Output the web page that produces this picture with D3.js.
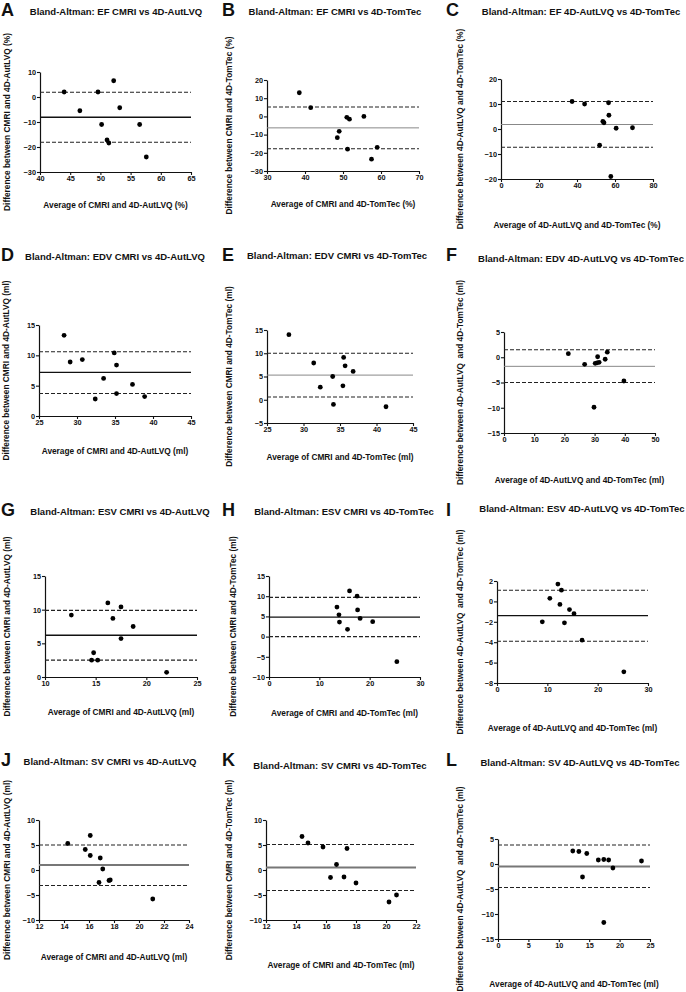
<!DOCTYPE html>
<html><head><meta charset="utf-8">
<script src="https://cdn.jsdelivr.net/npm/d3@7"></script>
<style>
html,body{margin:0;padding:0;background:#fff;}
svg{display:block;font-family:Arial,"Liberation Sans",Helvetica,sans-serif;}
</style></head><body>
<svg id="c" width="686" height="992"></svg>
<script>
// ---------------- DATA ----------------
const panelLetters = ["A","B","C","D","E","F","G","H","I","J","K","L"];
const titles = [
  "Bland-Altman: EF CMRI vs 4D-AutLVQ","Bland-Altman: EF CMRI vs 4D-TomTec","Bland-Altman: EF 4D-AutLVQ vs 4D-TomTec",
  "Bland-Altman: EDV CMRI vs 4D-AutLVQ","Bland-Altman: EDV CMRI vs 4D-TomTec","Bland-Altman: EDV 4D-AutLVQ vs 4D-TomTec",
  "Bland-Altman: ESV CMRI vs 4D-AutLVQ","Bland-Altman: ESV CMRI vs 4D-TomTec","Bland-Altman: ESV 4D-AutLVQ vs 4D-TomTec",
  "Bland-Altman: SV CMRI vs 4D-AutLVQ","Bland-Altman: SV CMRI vs 4D-TomTec","Bland-Altman: SV 4D-AutLVQ vs 4D-TomTec"];
const xLabels = [
  "Average of CMRI and 4D-AutLVQ (%)","Average of CMRI and 4D-TomTec (%)","Average of 4D-AutLVQ and 4D-TomTec (%)",
  "Average of CMRI and 4D-AutLVQ (ml)","Average of CMRI and 4D-TomTec (ml)","Average of 4D-AutLVQ and 4D-TomTec (ml)",
  "Average of CMRI and 4D-AutLVQ (ml)","Average of CMRI and 4D-TomTec (ml)","Average of 4D-AutLVQ and 4D-TomTec (ml)",
  "Average of CMRI and 4D-AutLVQ (ml)","Average of CMRI and 4D-TomTec (ml)","Average of 4D-AutLVQ and 4D-TomTec (ml)"];
const yLabels = [
  "Difference between CMRI and 4D-AutLVQ (%)","Difference between CMRI and 4D-TomTec (%)","Difference between 4D-AutLVQ and 4D-TomTec (%)",
  "Difference between CMRI and 4D-AutLVQ (ml)","Difference between CMRI and 4D-TomTec (ml)","Difference between 4D-AutLVQ  and 4D-TomTec (ml)",
  "Difference between CMRI and 4D-AutLVQ (ml)","Difference between CMRI and 4D-TomTec (ml)","Difference between 4D-AutLVQ  and 4D-TomTec (ml)",
  "Difference between CMRI and 4D-AutLVQ (ml)","Difference between CMRI and 4D-TomTec (ml)","Difference between 4D-AutLVQ  and 4D-TomTec (ml)"];
const xTicks = [
  [40,45,50,55,60,65],[30,40,50,60,70],[0,20,40,60,80],
  [25,30,35,40,45],[25,30,35,40,45],[0,10,20,30,40,50],
  [10,15,20,25],[0,10,20,30],[0,10,20,30],
  [12,14,16,18,20,22,24],[12,14,16,18,20,22],[0,5,10,15,20,25]];
const yTicks = [
  [10,0,-10,-20,-30],[20,10,0,-10,-20,-30],[20,10,0,-10,-20],
  [15,10,5,0],[15,10,5,0,-5],[5,0,-5,-10,-15],
  [15,10,5,0],[15,10,5,0,-5,-10],[2,0,-2,-4,-6,-8],
  [10,5,0,-5,-10],[10,5,0,-5,-10],[5,0,-5,-10,-15]];

// averages (x) and differences (y) per comparison
const efCmriAutAvg  = [44.0,46.6,49.6,52.2,53.2,50.2,51.1,51.4,56.5,57.6];
const efCmriAutDiff = [2.0,-5.5,2.0,6.5,-4.3,-11.0,-17.2,-18.4,-11.0,-24.0];
const efCmriTomAvg  = [38.5,41.5,51.0,51.7,55.5,49.0,48.5,51.2,59.0,57.5];
const efCmriTomDiff = [13.0,4.8,-0.5,-1.5,0.0,-8.2,-11.7,-18.0,-17.0,-23.5];
const efAutTomAvg   = [37.4,44.0,56.6,56.8,53.6,54.2,60.6,69.2,51.9,57.8];
const efAutTomDiff  = [11.0,10.0,10.5,5.5,3.0,2.5,0.3,0.5,-6.5,-19.0];
const edvCmriAutAvg  = [28.3,29.1,30.7,32.4,33.5,34.9,35.2,35.2,37.3,38.9];
const edvCmriAutDiff = [13.3,8.9,9.3,2.8,6.2,10.4,8.4,3.7,5.2,3.2];
const edvCmriTomAvg  = [28.0,31.4,32.3,34.0,34.1,35.4,35.5,35.7,36.8,41.3];
const edvCmriTomDiff = [14.0,7.9,2.7,5.0,-1.0,3.0,9.1,7.3,6.1,-1.5];
const edvAutTomAvg   = [21.3,26.7,30.2,30.8,31.5,31.0,33.5,34.2,29.8,39.7];
const edvAutTomDiff  = [0.7,-1.4,-1.2,-1.1,-1.0,0.1,-0.4,1.0,-9.9,-4.7];
const esvCmriAutAvg  = [12.6,14.6,14.8,15.2,16.2,16.7,17.5,17.5,18.7,22.0];
const esvCmriAutDiff = [9.2,2.5,3.6,2.5,11.0,8.7,10.4,5.7,7.5,0.7];
const esvCmriTomAvg  = [13.5,13.9,14.0,15.6,16.0,17.5,17.6,18.1,20.6,25.4];
const esvCmriTomDiff = [7.3,5.4,3.6,1.8,11.3,10.0,6.6,4.5,3.7,-6.2];
const esvAutTomAvg   = [9.0,10.5,12.1,12.5,12.8,13.4,14.4,15.3,16.9,25.2];
const esvAutTomDiff  = [-2.0,0.3,1.7,-0.3,1.1,-2.1,-0.8,-1.2,-3.8,-6.9];
const svCmriAutAvg  = [14.3,15.7,16.1,16.1,16.8,16.9,17.1,17.6,17.7,21.1];
const svCmriAutDiff = [5.3,4.1,6.9,2.9,-2.5,2.4,0.2,-2.1,-2.0,-5.8];
const svCmriTomAvg  = [14.4,14.8,15.8,16.3,16.7,17.2,17.4,18.0,20.2,20.7];
const svCmriTomDiff = [6.7,5.4,4.6,-1.5,1.1,-1.4,4.3,-2.6,-6.4,-5.0];
const svAutTomAvg   = [12.3,13.3,14.6,13.9,16.5,17.4,18.2,18.9,23.6,17.4];
const svAutTomDiff  = [2.6,2.5,2.1,-2.6,0.8,0.9,0.8,-0.8,0.6,-11.7];

// bias and limits of agreement
const biasValues  = [-8.1,-6.3,1.8, 7.2,5.3,-1.8, 6.2,4.8,-1.4, 1.0,0.5,-0.5];
const upperLimits = [1.9,5.2,11.0, 10.6,10.0,1.5, 9.9,9.7,1.1, 5.0,5.1,3.8];
const lowerLimits = [-18.1,-17.8,-7.3, 3.7,0.6,-5.0, 2.5,0.0,-3.9, -3.1,-4.1,-4.7];

const avgSeries  = [efCmriAutAvg,efCmriTomAvg,efAutTomAvg,edvCmriAutAvg,edvCmriTomAvg,edvAutTomAvg,
                    esvCmriAutAvg,esvCmriTomAvg,esvAutTomAvg,svCmriAutAvg,svCmriTomAvg,svAutTomAvg];
const diffSeries = [efCmriAutDiff,efCmriTomDiff,efAutTomDiff,edvCmriAutDiff,edvCmriTomDiff,edvAutTomDiff,
                    esvCmriAutDiff,esvCmriTomDiff,esvAutTomDiff,svCmriAutDiff,svCmriTomDiff,svAutTomDiff];

// ---------------- LAYOUT ----------------
const layout = [
  {l:40,r:191,t:72,b:172, tx:116,ty:12, ylx:6.5, xly:205, lx:1,  ly:16, mean:"k"},
  {l:267,r:419,t:80,b:171, tx:335,ty:12, ylx:229, xly:204, lx:222,ly:16, mean:"g"},
  {l:501,r:653,t:79,b:179, tx:581,ty:12, ylx:460, xly:225, lx:446,ly:16, mean:"g"},
  {l:39,r:191,t:325,b:416, tx:115,ty:257, ylx:5.5, xly:451, lx:1,  ly:261, mean:"k"},
  {l:267,r:413,t:330,b:423, tx:337,ty:256, ylx:229, xly:457, lx:222,ly:261, mean:"g"},
  {l:504,r:655,t:332,b:433, tx:581,ty:259, ylx:460, xly:480, lx:446,ly:261, mean:"g"},
  {l:45,r:197,t:576,b:677, tx:120,ty:512, ylx:6.5, xly:712, lx:1,  ly:516, mean:"k"},
  {l:269,r:420,t:576,b:677, tx:344,ty:512, ylx:233, xly:713, lx:222,ly:516, mean:"k"},
  {l:497,r:648,t:581,b:683, tx:582,ty:509, ylx:459.5, xly:728, lx:446,ly:516, mean:"k"},
  {l:39,r:189,t:820,b:920, tx:110,ty:762, ylx:6.5, xly:957, lx:1,  ly:766, mean:"G"},
  {l:266,r:416,t:820,b:920, tx:340,ty:766, ylx:229, xly:965, lx:222,ly:766, mean:"G"},
  {l:498,r:650,t:839,b:939, tx:580,ty:763, ylx:460, xly:984, lx:446,ly:766, mean:"G"}
];
const meanStyles = {k:{c:"#111",w:1.3}, g:{c:"#888",w:1}, G:{c:"#777",w:2}};

const svg = d3.select("#c");
svg.append("rect").attr("width",686).attr("height",992).attr("fill","#fff");

layout.forEach((L,i) => {
  const xt = xTicks[i], yt = yTicks[i];
  const x = d3.scaleLinear().domain([d3.min(xt), d3.max(xt)]).range([L.l, L.r]);
  const y = d3.scaleLinear().domain([d3.min(yt), d3.max(yt)]).range([L.b, L.t]);
  const g = svg.append("g");

  g.append("text").attr("x",L.lx).attr("y",L.ly).text(panelLetters[i])
    .attr("font-size",18).attr("font-weight","bold").attr("fill","#111");
  g.append("text").attr("x",L.tx).attr("y",L.ty+3.4).attr("text-anchor","middle")
    .attr("font-size",9.5).attr("font-weight","bold").attr("fill","#111").text(titles[i]);

  const xa = g.append("g").attr("transform",`translate(0,${L.b})`)
    .call(d3.axisBottom(x).tickValues(xt).tickSize(3).tickPadding(1).tickSizeOuter(0));
  const ya = g.append("g").attr("transform",`translate(${L.l},0)`)
    .call(d3.axisLeft(y).tickValues(yt).tickSize(3).tickPadding(1).tickSizeOuter(0));
  [xa,ya].forEach(a => {
    a.select(".domain").attr("stroke","#111").attr("stroke-width",1.2);
    a.selectAll(".tick line").attr("stroke","#111").attr("stroke-width",1.1);
    a.selectAll(".tick text").attr("font-size",7.3).attr("font-weight","bold").attr("fill","#111")
      .attr("font-family","Arial, 'Liberation Sans', sans-serif");
  });

  [upperLimits[i], lowerLimits[i]].forEach(v => {
    g.append("line").attr("x1",L.l).attr("x2",L.r).attr("y1",y(v)).attr("y2",y(v))
      .attr("stroke","#222").attr("stroke-width",1.1).attr("stroke-dasharray","4,2");
  });
  const ms = meanStyles[L.mean];
  g.append("line").attr("x1",L.l).attr("x2",L.r).attr("y1",y(biasValues[i])).attr("y2",y(biasValues[i]))
    .attr("stroke",ms.c).attr("stroke-width",ms.w);

  g.selectAll("circle.pt").data(d3.zip(avgSeries[i], diffSeries[i])).join("circle")
    .attr("class","pt").attr("cx",d=>x(d[0])).attr("cy",d=>y(d[1])).attr("r",2.4).attr("fill","#000");

  g.append("text").attr("x",(L.l+L.r)/2).attr("y",L.xly+3).attr("text-anchor","middle")
    .attr("font-size",8.3).attr("font-weight","bold").attr("fill","#111").text(xLabels[i]);
  g.append("text").attr("transform",`translate(${L.ylx+3},${(L.t+L.b)/2}) rotate(-90)`)
    .attr("text-anchor","middle").attr("font-size",8.3).attr("font-weight","bold").attr("fill","#111")
    .style("white-space","pre").text(yLabels[i]);
});
</script>
</body></html>
